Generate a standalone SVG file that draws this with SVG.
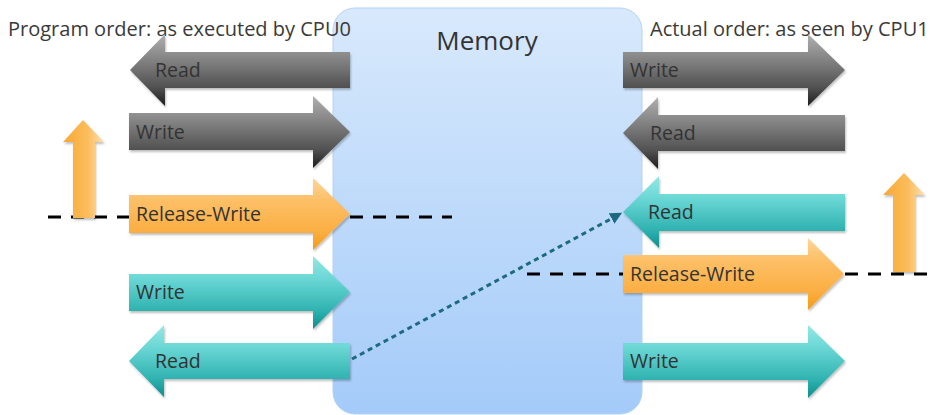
<svg xmlns="http://www.w3.org/2000/svg" width="930" height="415" viewBox="0 0 930 415">
<defs>
<linearGradient id="gMem" x1="0" y1="0" x2="0" y2="1">
<stop offset="0" stop-color="#d8e9fc"/>
<stop offset="1" stop-color="#a4cbf9"/>
</linearGradient>
<linearGradient id="gGray" x1="0" y1="0" x2="0" y2="1">
<stop offset="0" stop-color="#b0b0b0"/>
<stop offset="0.3" stop-color="#8a8a8a"/>
<stop offset="0.75" stop-color="#505050"/>
<stop offset="1" stop-color="#1c1c1c"/>
</linearGradient>
<linearGradient id="gTeal" x1="0" y1="0" x2="0" y2="1">
<stop offset="0" stop-color="#93e8e4"/>
<stop offset="0.3" stop-color="#6cd8d6"/>
<stop offset="0.75" stop-color="#2fb2b0"/>
<stop offset="1" stop-color="#0b8e8c"/>
</linearGradient>
<linearGradient id="gOrange" x1="0" y1="0" x2="0" y2="1">
<stop offset="0" stop-color="#ffd697"/>
<stop offset="0.3" stop-color="#fdc068"/>
<stop offset="0.75" stop-color="#fbae42"/>
<stop offset="1" stop-color="#f39a12"/>
</linearGradient>
<linearGradient id="gUp" x1="0" y1="0" x2="1" y2="0">
<stop offset="0" stop-color="#f9a834"/>
<stop offset="0.6" stop-color="#fbbd5c"/>
<stop offset="1" stop-color="#fde0b2"/>
</linearGradient>
<filter id="sh" x="-10%" y="-10%" width="130%" height="140%">
<feDropShadow dx="1" dy="2" stdDeviation="1.2" flood-color="#000" flood-opacity="0.25"/>
</filter>
<marker id="ah" viewBox="0 0 10 10" refX="8" refY="5" markerWidth="4" markerHeight="4" orient="auto" markerUnits="strokeWidth">
<path d="M0,0 L10,5 L0,10 z" fill="#1d6a80"/>
</marker>
<style>
.hdr{font-family:"Open Sans","Noto Sans","Liberation Sans",sans-serif;font-size:20px;fill:#3a3a3a}
.lbl{font-family:"Open Sans","Noto Sans","Liberation Sans",sans-serif;font-size:19.5px;fill:#333}
.mem{font-family:"Open Sans","Noto Sans","Liberation Sans",sans-serif;font-size:26px;fill:#333}
.dash{stroke:#000;stroke-width:3;stroke-dasharray:13 10;fill:none}
.gray{fill:url(#gGray);filter:url(#sh)}
.teal{fill:url(#gTeal);filter:url(#sh)}
.orange{fill:url(#gOrange);filter:url(#sh)}
.up{fill:url(#gUp);filter:url(#sh)}
</style>
</defs>
<rect width="930" height="415" fill="#fff"/>

<g id="memory">
<rect x="333" y="8" width="309" height="406" rx="22" ry="22" fill="url(#gMem)" stroke="#b3d2f5" stroke-width="1"/>
<text class="mem" x="487" y="50" text-anchor="middle">Memory</text>
</g>

<g id="headers">
<text class="hdr" x="8" y="36">Program order: as executed by CPU0</text>
<text class="hdr" x="650" y="36">Actual order: as seen by CPU1</text>
</g>

<g id="connectors">
<line class="dash" x1="48" y1="217" x2="129" y2="217"/>
<line class="dash" x1="350" y1="217" x2="452" y2="217"/>
<line class="dash" x1="527" y1="274" x2="623" y2="274"/>
<line class="dash" x1="845" y1="274" x2="930" y2="274"/>
<line x1="352" y1="359" x2="620" y2="214" stroke="#1d6a80" stroke-width="3" stroke-dasharray="5 4" marker-end="url(#ah)"/>
</g>

<g id="left-read1">
<path class="gray" d="M130,70 L165,34 L165,52 L350,52 L350,88 L165,88 L165,106 Z"/>
<text class="lbl" x="155" y="77">Read</text>
</g>
<g id="left-write1">
<path class="gray" d="M129,113 L313,113 L313,96 L350,132 L313,168 L313,150 L129,150 Z"/>
<text class="lbl" x="136" y="139">Write</text>
</g>
<g id="left-release">
<path class="orange" d="M129,195 L313,195 L313,178 L350,214 L313,250 L313,233 L129,233 Z"/>
<text class="lbl" x="136" y="221">Release-Write</text>
</g>
<g id="left-write2">
<path class="teal" d="M129,274 L313,274 L313,256 L350,292 L313,329 L313,311 L129,311 Z"/>
<text class="lbl" x="136" y="299">Write</text>
</g>
<g id="left-read2">
<path class="teal" d="M129,361 L164,325 L164,343 L350,343 L350,379 L164,379 L164,397 Z"/>
<text class="lbl" x="155" y="368">Read</text>
</g>
<g id="left-up">
<path class="up" d="M83,120 L104,142 L95,142 L95,218 L73,218 L73,142 L63,142 Z"/>
</g>

<g id="right-write1">
<path class="gray" d="M623,52 L808,52 L808,34 L845,70 L808,106 L808,88 L623,88 Z"/>
<text class="lbl" x="630" y="77">Write</text>
</g>
<g id="right-read1">
<path class="gray" d="M623,133 L658,97 L658,115 L845,115 L845,151 L658,151 L658,169 Z"/>
<text class="lbl" x="650" y="140">Read</text>
</g>
<g id="right-read2">
<path class="teal" d="M623,212 L659,176 L659,194 L845,194 L845,231 L659,231 L659,248 Z"/>
<text class="lbl" x="648" y="219">Read</text>
</g>
<g id="right-release">
<path class="orange" d="M623,255 L808,255 L808,238 L844,274 L808,310 L808,293 L623,293 Z"/>
<text class="lbl" x="630" y="281">Release-Write</text>
</g>
<g id="right-write2">
<path class="teal" d="M623,343 L808,343 L808,325 L845,361 L808,398 L808,380 L623,380 Z"/>
<text class="lbl" x="630" y="368">Write</text>
</g>
<g id="right-up">
<path class="up" d="M904,173 L925,195 L915,195 L915,272 L893,272 L893,195 L883,195 Z"/>
</g>
</svg>
